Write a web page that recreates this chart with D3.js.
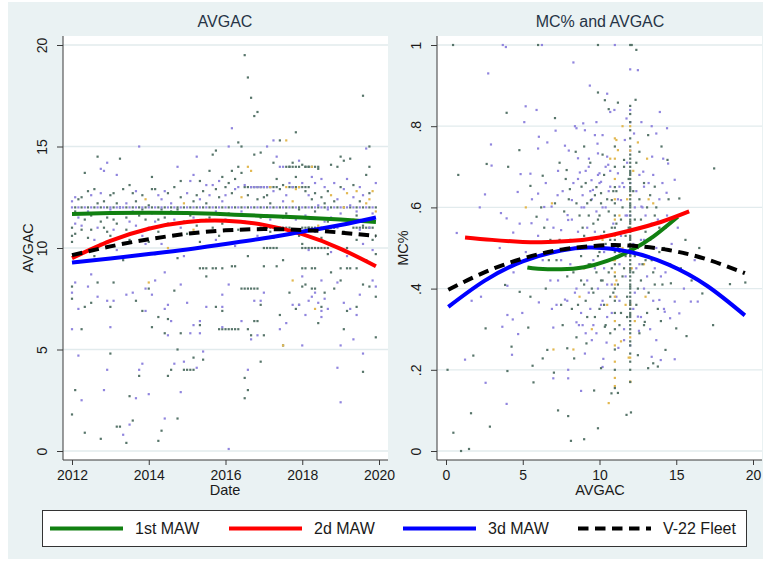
<!DOCTYPE html>
<html>
<head>
<meta charset="utf-8">
<script src="https://cdn.jsdelivr.net/npm/d3@7"></script>
<style>
body { margin: 0; background: #fff; }
text { font-family: "Liberation Sans", Arial, sans-serif; }
</style>
</head>
<body>
<div id="chart"></div>
<script>
// ---------------- data ----------------
// left panel: [months since Jan 2012, AVGAC]
const leftGray = [
  [0,8.1],[0,7.5],[0,1.8],[1,3.0],[3,6.0],[4,0.9],[4,7.1],[6,7.3],[8,8.3],[9,0.6],[12,4.8],[12,7.1],[13,8.3],[14,1.2],[15,1.2],[17,0.4],
  [18,2.7],[19,1.5],[20,7.4],[21,3.7],[22,6.9],[24,8.0],[25,6.1],[27,0.5],[27,6.6],[28,1.0],[29,5.8],[30,3.7],[30,6.5],[31,4.0],[32,7.9],
  [33,1.6],[33,5.0],[34,5.8],[35,4.0],[36,4.0],[37,4.0],[38,4.0],[38,4.6],[40,6.2],[41,4.5],[42,8.6],[45,7.1],[47,6.9],[46,6.0],[47,6.0],
  [48,6.0],[49,6.0],[50,6.0],[51,6.0],[52,6.0],[54,3.6],[54,2.6],[55,3.0],[55,6.0],[56,5.7],[57,6.4],[58,6.4],[59,4.4],[59,7.2],[60,5.7],
  [53,8.0],[54,8.0],[55,8.0],[56,8.0],[57,8.0],[58,8.0],[65,6.7],[66,5.2],[68,7.8],[70,7.0],[71,7.2],[72,8.1],[73,8.2],[75,8.0],[76,8.0],
  [77,6.3],[78,7.1],[79,7.8],[81,8.8],[82,8.0],[84,8.4],[85,6.0],[86,6.9],[89,7.1],[91,3.9],[91,8.2],[93,8.1],[95,7.6],[95,5.6],
  [40,9],[41,9],[42,9],[44,9],[45,9],[47,9],[72,9],[73,9],[75,9],[76,9],[84,9],[86,9],[87,9],[89,9],
  [50,9.1],[51,9.1],[60,9.1],[64,9.1],[2,9.3],[7,9.6],[16,9.4],[26,9.7],[33,9.5],[55,9.6],[66,9.4],[80,9.7],[92,9.4],
  [0,11.0],[0,10.6],[0,10.3],[1,10.7],[2,12.4],[3,12.5],[3,10.9],[4,13.7],[4,11.4],[5,10.5],[6,10.9],[6,11.6],[7,12.9],[8,14.5],[8,12.2],
  [9,11.3],[9,10.2],[10,12.3],[11,11.5],[11,10.8],[12,12.6],[12,10.6],[13,11.4],[14,12.2],[14,11.2],[15,14.4],[15,10.5],[16,12.9],
  [17,10.9],[17,11.5],[18,10.4],[19,12.7],[19,10.7],[20,12.3],[21,11.6],[22,11.9],[23,11.4],[24,12.1],[24,10.3],[25,13.5],[25,12.9],
  [26,12.9],[27,10.8],[28,11.9],[29,11.5],[30,11.2],[31,11.8],[32,13.0],[33,11.9],[34,12.5],[35,11.3],[36,10.7],[37,11.6],[38,12.3],
  [39,11.1],[40,13.3],[40,10.3],[41,12.8],[42,12.2],[43,13.8],[44,14.6],[44,11.0],[45,14.8],[45,12.9],[46,12.5],[47,13.5],[47,11.2],
  [48,13.0],[49,13.2],[50,13.8],[50,12.7],[51,13.4],[52,15.2],[52,14.0],[53,15.0],[53,13.7],[54,19.5],[55,18.4],[55,12.6],[56,17.4],
  [57,16.5],[57,14.6],[58,16.7],[58,12.4],[59,14.7],[59,11.5],[60,12.5],[60,11.0],[61,12.6],[62,12.2],[62,10.8],[63,14.2],[64,13.4],
  [64,10.9],[65,15.3],[65,12.9],[66,13.1],[66,11.5],[68,14.0],[68,11.0],[69,14.2],[70,15.7],[70,13.5],[71,11.9],[72,14.1],[72,10.2],
  [73,14.0],[73,12.8],[74,14.0],[74,11.0],[75,12.4],[76,12.7],[77,13.9],[78,12.5],[78,10.5],[79,12.2],[80,12.8],[81,14.1],[82,12.3],
  [82,10.1],[83,14.0],[84,14.5],[84,13.0],[85,14.3],[86,11.2],[87,14.4],[87,10.7],[88,13.1],[89,10.4],[90,12.3],[91,17.5],[91,11.1],
  [92,13.6],[93,15.0],[93,14.0],[94,10.4],[95,10.6],[95,9.7],
  [1,11.8],[5,12.8],[10,11.0],[13,12.7],[18,13.1],[22,12.6],[27,11.4],[30,12.7],[34,13.3],[36,11.7],[39,12.6],[43,11.5],[46,10.6],
  [49,11.7],[52,10.9],[56,11.2],[61,11.6],[63,10.5],[67,11.7],[71,10.6],[76,11.8],[80,11.3],[85,10.8],[89,11.6],[93,12.7]
];
const leftPurple = [
  [0,6.0],[0,7.8],[1,8.3],[2,4.7],[2,7.0],[3,2.5],[5,8.1],[6,8.7],[8,7.6],[10,3.0],[11,4.0],[11,7.4],[12,6.1],[13,7.4],[16,0.8],[17,7.7],
  [18,1.3],[19,7.8],[20,2.6],[21,4.0],[22,4.3],[23,6.9],[23,8.0],[24,2.8],[25,7.7],[26,8.4],[29,1.6],[29,8.8],[29,7.0],[30,5.7],[30,7.2],
  [31,6.4],[32,4.3],[34,8.2],[34,2.9],[35,4.4],[36,7.3],[37,5.8],[38,6.2],[39,4.1],[40,5.8],[40,6.4],[41,4.9],[42,7.1],[47,6.1],[47,7.1],
  [47,7.7],[49,8.2],[49,0.1],[53,6.4],[55,4.0],[56,5.5],[57,7.4],[58,5.7],[59,7.4],[60,7.8],[65,6.0],[67,6.3],[69,7.2],[71,7.2],[72,8.6],
  [72,5.2],[73,6.7],[74,7.4],[75,7.6],[76,7.8],[77,7.3],[78,6.6],[78,6.9],[78,8.4],[79,7.5],[80,7.0],[83,4.1],[83,8.3],[84,5.2],[84,2.4],
  [85,7.3],[87,7.0],[88,5.5],[89,6.7],[90,7.7],[91,4.8],[94,8.4],[95,8.1],
  [0,12.3],[1,12.5],[1,11.2],[2,11.5],[5,11.8],[6,12.6],[7,10.4],[8,11.0],[9,13.9],[10,13.8],[11,14.2],[12,11.9],[13,10.9],[14,13.6],
  [15,12.0],[16,11.7],[17,12.2],[18,11.3],[19,11.8],[20,11.1],[21,15.0],[21,10.8],[22,10.6],[24,11.0],[25,11.7],[26,11.3],[27,12.6],
  [28,10.2],[29,12.8],[31,12.2],[32,10.6],[33,14.0],[34,11.0],[36,12.7],[37,13.3],[38,13.6],[39,14.5],[40,12.4],[41,11.7],[43,12.6],
  [44,13.1],[45,11.8],[46,13.3],[47,12.3],[48,12.6],[49,15.0],[50,15.9],[51,12.9],[52,13.0],[54,13.1],[54,11.3],[56,13.0],[57,13.0],
  [58,13.0],[59,13.0],[60,13.0],[61,15.0],[61,13.0],[63,15.3],[63,12.8],[64,14.5],[65,14.0],[66,14.0],[67,12.6],[68,13.2],[69,13.0],
  [71,14.3],[72,13.2],[73,11.6],[74,12.6],[75,13.5],[76,13.2],[76,10.8],[77,12.1],[78,13.4],[79,13.0],[79,11.3],[80,11.9],[81,11.5],
  [82,13.2],[83,12.4],[83,11.0],[84,11.7],[85,12.9],[86,13.4],[87,12.1],[88,12.5],[89,11.8],[90,13.0],[90,10.9],[91,12.6],[92,14.9],
  [93,11.0],[94,11.7],[95,13.2],
  [3,11.1],[4,9.8],[9,12.7],[14,9.9],[20,12.8],[23,10.2],[28,12.4],[32,11.4],[35,9.6],[38,11.5],[42,13.1],[45,10.4],[48,11.4],[51,10.1],
  [53,11.8],[58,10.6],[62,11.4],[66,12.3],[70,11.4],[74,9.9],[77,10.4],[81,9.8],[86,9.6],[91,10.2],[94,9.9]
];
const leftGold = [
  [24,8.3],[66,5.2],[69,8.4],[76,7.0],[23,12.4],[30,10.0],[35,12.2],[38,10.9],[42,11.4],[53,12.5],[55,14.0],[56,13.8],[62,13.0],
  [67,15.3],[67,13.0],[69,12.3],[70,12.9],[71,13.0],[75,14.0],[77,11.1],[80,10.9],[81,12.6],[85,12.0],[86,12.7],[88,11.4],[89,12.8],
  [92,12.2],[93,12.4],[94,12.8],[95,11.8]
];
// months with repeated values (rows of dots)
const row12Gray = [1,3,5,7,9,11,13,15,17,19,21,23,25,27,29,31,33,35,37,39,41,43,45,47,49,51,53,55,57,59,61,63,65,67,69,71,73,75,77,79,81,83,85,87,89,91,93,95];
const row12Purple = [0,2,4,6,8,10,12,14,16,18,20,22,24,26,28,30,32,34,36,38,40,42,44,46,48,50,52,54,56,58,60,62,64,66,68,70,72,74,76,78,80,82,84,86,88,90,92,94];
const row11Gray = [59,60,61,62,63,64,65,66,67,72,73,74,75,76,77,78,79,80,81,82,88,89,90,91,92,93,94];
const row10Gray = [60,61,62,63,64,72,73,74,75,76,77,78,79,80,86];
const row13Gray = [54,55,56,57,58,59,60,61,62,63,64,68,69,70,71,72,73,74];
const row14Gray = [67,68,69,70,71,73,74,75,76,77];

// right panel: [AVGAC, MC%]
const rightGray = [
  [0.1,.2],[0.48,.045],[0.98,0.0],[1.5,.005],[1.63,.093],[1.78,.235],[2.58,.302],[2.86,.06],[3.85,.409],[4.0,.197],[4.27,.257],[4.8,.392],
  [5.36,.304],[5.64,.21],[5.7,.169],[6.3,.228],[6.6,.249],[7.03,.193],[7.3,.1],[7.9,.253],[7.96,.086],[8.14,.025],[8.35,.228],[9.0,.029],
  [9.15,.265],[9.65,.149],[9.9,.056],[10.1,.204],[10.35,.306],[10.78,.142],[11.2,.143],[11.76,.089],[12.05,.095],[12.5,.236],[12.95,.318],
  [13.17,.204],[13.5,.216],[13.8,.208],[14.3,.249],[14.65,.413],[15.0,.302],[15.67,.283],[16.7,.388],[17.4,.31],[18.5,.411],[19.5,.415],
  [0.8,.68],[2.65,.707],[3.95,.833],[4.05,.70],[4.78,.741],[5.5,.653],[5.9,.577],[6.3,.678],[7.1,.82],[7.4,.71],[7.86,.692],[8.07,.645],
  [8.45,.737],[8.83,.651],[9.0,.75],[9.44,.618],[9.9,.883],[10.1,.635],[10.35,.864],[10.6,.842],[10.8,.618],[11.2,.858],[11.6,.717],
  [12.35,.865],[12.6,.737],[13.17,.778],[13.6,.651],[14.04,.75],[14.43,.717],[14.08,.565],[15.2,.622],[17.47,.696],[0.46,1],[6.0,1],
  [9.9,1],[12.0,1],[12.1,1],[12.4,.988],
  [8.1,.52],[8.3,.44],[8.5,.61],[8.6,.36],[8.8,.48],[8.9,.55],[9.0,.41],[9.1,.66],[9.2,.33],[9.3,.58],[9.4,.46],[9.5,.52],[9.6,.39],
  [9.7,.63],[9.8,.44],[9.9,.57],[10.0,.35],[10.0,.49],[10.1,.61],[10.2,.42],[10.3,.54],[10.3,.68],[10.4,.31],[10.5,.47],[10.6,.59],
  [10.7,.38],[10.7,.52],[10.8,.45],[10.9,.64],[11.1,.56],[11.2,.41],[11.3,.49],[11.4,.34],[11.5,.6],[11.6,.45],[11.7,.53],[11.8,.38],
  [11.9,.67],[12.2,.44],[12.3,.57],[12.4,.36],[12.5,.5],[12.6,.62],[12.7,.42],[12.8,.55],[12.9,.31],[13.0,.47],[13.1,.6],[13.2,.39],
  [13.3,.52],[13.5,.44],[13.6,.58],[13.8,.35],[13.9,.49],[14.1,.41],[14.3,.55],[14.6,.46],[7.2,.47],[7.5,.36],[7.7,.59],[7.9,.43],
  [6.8,.52],[6.5,.4],[6.2,.6],[5.8,.45],[5.5,.38],[15.3,.45],[15.6,.52],[16.0,.42],[16.5,.5],
  [8.0,.62],[8.2,.35],[8.4,.5],[8.5,.28],[8.7,.58],[8.8,.42],[9.0,.53],[9.1,.37],[9.2,.61],[9.3,.46],[9.4,.71],[9.5,.4],[9.6,.56],
  [9.7,.33],[9.8,.65],[9.9,.48],[10.0,.58],[10.1,.42],[10.2,.73],[10.3,.36],[10.4,.51],[10.5,.62],[10.6,.44],[10.7,.29],[10.8,.55],
  [10.9,.39],[11.1,.64],[11.2,.5],[11.3,.31],[11.4,.57],[11.5,.43],[11.6,.7],[11.7,.48],[11.8,.33],[11.9,.55],[12.2,.64],[12.3,.48],
  [12.4,.71],[12.5,.4],[12.6,.29],[12.7,.57],[12.8,.46],[12.9,.66],[13.0,.54],[13.1,.34],[13.3,.63],[13.4,.47],[13.6,.41],[13.7,.6],
  [13.9,.55],[14.0,.32],[14.2,.5],[14.5,.62],[7.4,.52],[7.6,.31],[7.8,.67],[7.1,.61],[6.7,.47],[6.4,.55]
];
const rightPurple = [
  [1.24,.225],[1.67,.37],[2.28,.38],[2.58,.168],[3.67,.306],[3.95,.116],[4.0,.407],[4.0,.335],[4.3,.237],[4.35,.324],[4.7,.288],[4.97,.34],
  [6.05,.366],[6.66,.446],[6.99,.304],[6.99,.179],[7.2,.36],[7.75,.373],[7.96,.2],[7.96,.179],[8.5,.317],[8.66,.31],[8.8,.148],[9.05,.24],
  [9.5,.273],[10.2,.207],[10.25,.227],[10.46,.267],[11.23,.254],[11.6,.273],[12.5,.331],[12.57,.296],[13.4,.232],[13.7,.273],[13.9,.372],
  [13.99,.224],[14.25,.343],[14.6,.327],[14.9,.226],[14.9,.368],[15.2,.339],[15.95,.368],[16.4,.368],
  [0.7,.537],[2.54,.632],[2.93,.755],[2.97,.703],[3.58,.586],[3.95,.573],[4.38,.538],[4.67,.638],[4.86,.682],[5.1,.81],[5.19,.849],
  [5.5,.683],[5.57,.561],[5.9,.84],[6.0,.634],[6.05,.774],[6.0,.745],[6.4,.601],[6.6,.76],[6.88,.602],[7.14,.789],[7.27,.63],[7.5,.544],
  [7.75,.752],[7.92,.581],[7.96,.569],[8.2,.618],[8.3,.957],[8.4,.8],[8.5,.795],[8.6,.721],[8.72,.686],[8.83,.6],[8.94,.807],[9.05,.79],
  [9.1,.69],[9.37,.9],[9.31,.72],[9.48,.667],[9.57,.643],[9.7,.778],[9.8,.81],[9.87,.757],[9.9,.733],[10.0,.684],[10.1,.663],[10.2,.778],
  [10.5,.88],[10.7,.835],[10.5,.725],[10.57,.705],[10.7,.651],[10.97,.84],[11.2,.684],[11.3,.651],[11.4,.618],[11.76,.819],[11.65,.766],
  [12.25,.782],[12.5,.938],[12.73,.81],[12.85,.688],[12.9,.651],[12.73,.602],[13.4,.8],[13.43,.725],[13.7,.782],[13.93,.835],[14.15,.72],
  [14.4,.795],[14.47,.708],[14.37,.636],[14.9,.668],[2.75,.93],[3.7,1],[3.9,.995],[6.25,1],[12.0,.94],[11.0,1],
  [8.2,.57],[8.4,.39],[8.6,.67],[8.7,.45],[8.9,.31],[9.0,.6],[9.1,.5],[9.2,.42],[9.3,.7],[9.4,.35],[9.5,.62],[9.6,.47],[9.7,.54],
  [9.8,.29],[9.9,.4],[10.0,.66],[10.1,.53],[10.2,.37],[10.3,.45],[10.4,.6],[10.5,.33],[10.6,.5],[10.7,.69],[10.8,.41],[10.9,.56],
  [11.1,.48],[11.2,.62],[11.3,.37],[11.4,.53],[11.6,.65],[11.7,.43],[11.8,.58],[12.2,.51],[12.3,.39],[12.4,.64],[12.6,.46],[12.7,.33],
  [12.8,.6],[12.9,.52],[13.1,.43],[13.2,.66],[13.4,.56],[13.5,.37],[13.7,.5],[13.9,.62],[14.0,.43],[14.2,.35],[14.4,.58],[14.7,.51],
  [7.0,.55],[7.3,.42],[7.6,.64],[7.8,.5],[6.9,.35],[6.6,.57],[6.3,.47],[6.0,.53],[5.6,.62],[5.2,.49],[4.8,.56],[15.1,.55],[15.5,.4],
  [16.2,.47],[3.5,.5],[2.2,.6],[4.4,.44],
  [8.1,.46],[8.3,.66],[8.5,.4],[8.6,.54],[8.8,.34],[8.9,.63],[9.1,.29],[9.2,.55],[9.3,.39],[9.4,.64],[9.6,.31],[9.7,.45],[9.8,.59],
  [9.9,.68],[10.1,.36],[10.2,.6],[10.3,.49],[10.4,.7],[10.5,.41],[10.6,.64],[10.8,.34],[10.9,.5],[11.1,.38],[11.3,.46],[11.5,.66],
  [11.6,.3],[11.7,.58],[11.8,.71],[12.2,.35],[12.3,.6],[12.4,.45],[12.6,.68],[12.7,.52],[12.9,.4],[13.0,.58],[13.2,.48],[13.3,.3],
  [13.5,.68],[13.6,.45],[13.8,.57],[14.1,.66],[14.3,.44],[7.3,.69],[7.5,.47],[7.9,.37],[8.0,.74],[6.8,.42],[6.5,.66]
];
const rightGold = [
  [5.2,.6],[10.6,.118],[11.1,.766],[11.2,.741],[12.0,.171],[10.9,.47],[11.1,.42],[11.3,.58],[11.5,.5],[11.7,.36],[11.8,.62],[12.1,.45],
  [12.2,.69],[12.3,.32],[12.6,.55],[12.9,.46],[13.0,.38],[13.2,.62],[10.2,.52],[10.5,.36],[10.7,.72],[9.8,.5],[9.5,.3],[9.0,.45],
  [8.7,.38],[8.3,.25],[7.0,.25],[6.9,.61],[13.5,.61],[13.1,.72],[12.5,.76],[11.5,.8],[11.4,.27],[11.9,.23]
];
// MC% values stacked at AVGAC = 12 and 11
const col12Gray = [.17,.2,.22,.24,.26,.27,.29,.3,.31,.32,.33,.335,.34,.35,.36,.365,.37,.38,.39,.4,.405,.41,.42,.43,.44,.445,.45,.46,
  .47,.48,.485,.49,.5,.51,.52,.525,.53,.54,.55,.56,.565,.57,.58,.59,.6,.605,.61,.62,.63,.64,.645,.65,.66,.67,.68,.685,.69,.7,.71,.72,
  .73,.75,.77,.79,.81,.83,.85];
const col12Purple = [.26,.35,.48,.58,.66,.74,.81,.84];
const col12Gold = [.17,.23,.28,.36,.45,.55,.63,.74,.8];
const col11Gray = [.155,.2,.25,.3,.34,.37,.4,.43,.46,.49,.52,.55,.58,.61,.65,.7,.75];
const col11Gold = [.16,.18,.22,.26,.32,.38,.41,.44,.47,.53,.57,.62,.67,.72,.77];

// fitted curves
const fitLeft1st = [[2012,11.68],[2013,11.72],[2014,11.74],[2015,11.72],[2016,11.66],[2017,11.58],[2018,11.5],[2019,11.4],[2019.92,11.28]];
const fitLeft2d = [[2012,9.5],[2013,10.35],[2014,10.95],[2015,11.28],[2016,11.34],[2017,11.14],[2018,10.68],[2019,9.96],[2019.92,9.1]];
const fitLeft3d = [[2012,9.28],[2013,9.48],[2014,9.7],[2015,9.93],[2016,10.2],[2017,10.48],[2018,10.8],[2019,11.13],[2019.92,11.5]];
const fitLeftFleet = [[2012,9.65],[2013,10.08],[2014,10.43],[2015,10.7],[2016,10.87],[2017,10.93],[2018,10.89],[2019,10.76],[2019.92,10.59]];
const fitRight1st = [[5.3,.452],[6,.449],[7.5,.4475],[9,.4525],[10.5,.468],[12,.493],[13.5,.528],[15.1,.577]];
const fitRight2d = [[1.24,.526],[3,.52],[5,.515],[6.2,.514],[8,.517],[10,.526],[12,.543],[14,.564],[15.84,.59]];
const fitRight3d = [[0.15,.355],[2.5,.419],[5,.467],[7.5,.494],[9.5,.501],[12,.49],[14.5,.459],[17,.407],[19.47,.334]];
const fitRightFleet = [[0.15,.397],[2.5,.44],[5,.474],[7.5,.496],[10,.506],[12,.506],[14.5,.495],[17,.472],[19.47,.438]];

const leftTicksX = [2012, 2014, 2016, 2018, 2020];
const leftTicksY = [0, 5, 10, 15, 20];
const rightTicksX = [0, 5, 10, 15, 20];
const rightTicksY = [0, .2, .4, .6, .8, 1];
const rightLabelsY = ["0", ".2", ".4", ".6", ".8", "1"];
const legendNames = ["1st MAW", "2d MAW", "3d MAW", "V-22 Fleet"];

// ---------------- drawing ----------------
const width = 769, height = 562;
const colGray = "#57756a", colPurple = "#9085de", colGold = "#e2b850";
const lineColors = ["#118011", "#ff0000", "#0000ff", "#000000"];
const dashPattern = "10.5,6.5";
const gridColor = "#e2ebed";
const axisColor = "#3a3a3a";

const svg = d3.select("#chart").append("svg")
  .attr("width", width)
  .attr("height", height);

svg.append("rect")
  .attr("x", 8).attr("y", 2)
  .attr("width", 755).attr("height", 557)
  .attr("fill", "#eaf2f3");

function toDate(m) { return 2012 + m / 12; }

function drawPanel(p) {
  const g = svg.append("g");
  const left = p.left, top = 36, w = 325, h = 424;
  const xs = d3.scaleLinear().domain(p.xDomain).range(p.xRange);
  const ys = d3.scaleLinear().domain(p.yDomain).range([451, 45]);

  g.append("rect")
    .attr("x", left).attr("y", top)
    .attr("width", w).attr("height", h)
    .attr("fill", "#fff");

  // gridlines
  g.selectAll(".grid")
    .data(p.yTicks)
    .enter().append("line")
    .attr("x1", left).attr("x2", left + w)
    .attr("y1", d => ys(d)).attr("y2", d => ys(d))
    .attr("stroke", gridColor)
    .attr("stroke-width", 1.3);

  g.append("clipPath").attr("id", p.id)
    .append("rect")
    .attr("x", left).attr("y", top)
    .attr("width", w).attr("height", h);

  const plot = g.append("g").attr("clip-path", "url(#" + p.id + ")");

  p.groups.forEach(function(grp) {
    plot.append("g").selectAll("rect")
      .data(grp.data)
      .enter().append("rect")
      .attr("x", d => xs(d[0]) - 1.1)
      .attr("y", d => ys(d[1]) - 1.1)
      .attr("width", 2.2)
      .attr("height", 2.2)
      .attr("fill", grp.color);
  });

  const line = d3.line()
    .x(d => xs(d[0]))
    .y(d => ys(d[1]))
    .curve(d3.curveNatural);

  p.fits.forEach(function(f, i) {
    plot.append("path")
      .datum(f)
      .attr("d", line)
      .attr("fill", "none")
      .attr("stroke", lineColors[i])
      .attr("stroke-width", 4)
      .attr("stroke-dasharray", i == 3 ? dashPattern : null);
  });

  // y axis
  const yAxis = d3.axisLeft(ys)
    .tickValues(p.yTicks)
    .tickSize(6)
    .tickSizeOuter(0)
    .tickFormat((d, i) => p.yLabels[i]);
  const gy = g.append("g")
    .attr("transform", "translate(" + left + ",0)")
    .call(yAxis)
    .attr("font-size", 14)
    .attr("font-family", null);
  gy.select(".domain").remove();
  gy.selectAll("line").attr("stroke", axisColor);
  gy.selectAll("text")
    .attr("x", 0).attr("y", -16).attr("dy", null)
    .attr("transform", "rotate(-90)")
    .attr("text-anchor", "middle")
    .attr("fill", "#1a1a1a");

  // x axis
  const xAxis = d3.axisBottom(xs)
    .tickValues(p.xTicks)
    .tickSize(5)
    .tickPadding(5)
    .tickFormat(d3.format("d"));
  const gx = g.append("g")
    .attr("transform", "translate(0," + (top + h) + ")")
    .call(xAxis)
    .attr("font-size", 14)
    .attr("font-family", null);
  gx.select(".domain").remove();
  gx.selectAll("line").attr("stroke", axisColor);
  gx.selectAll("text").attr("fill", "#1a1a1a");

  g.append("line")
    .attr("x1", left).attr("x2", left)
    .attr("y1", top).attr("y2", top + h)
    .attr("stroke", axisColor);
  g.append("line")
    .attr("x1", left).attr("x2", left + w)
    .attr("y1", top + h).attr("y2", top + h)
    .attr("stroke", axisColor);

  // titles
  g.append("text")
    .attr("x", p.titleX).attr("y", 27)
    .attr("text-anchor", "middle")
    .attr("font-size", 16)
    .attr("fill", "#263446")
    .text(p.title);
  g.append("text")
    .attr("x", p.titleX).attr("y", 495)
    .attr("text-anchor", "middle")
    .attr("font-size", 14.5)
    .attr("fill", "#1a1a1a")
    .text(p.xTitle);
  g.append("text")
    .attr("transform", "translate(" + p.yTitleX + ",248) rotate(-90)")
    .attr("text-anchor", "middle")
    .attr("font-size", 14.5)
    .attr("fill", "#1a1a1a")
    .text(p.yTitle);
}

// build point sets for the left panel
const leftGrayAll = leftGray
  .concat(row12Gray.map(m => [m, 12]))
  .concat(row11Gray.map(m => [m, 11]))
  .concat(row10Gray.map(m => [m, 10]))
  .concat(row13Gray.map(m => [m, 13]))
  .concat(row14Gray.map(m => [m, 14]))
  .map(d => [toDate(d[0]), d[1]]);
const leftPurpleAll = leftPurple.concat(row12Purple.map(m => [m, 12])).map(d => [toDate(d[0]), d[1]]);
const leftGoldAll = leftGold.map(d => [toDate(d[0]), d[1]]);

drawPanel({
  id: "clipL", left: 63,
  xDomain: [2012, 2020], xRange: [72, 379],
  yDomain: [0, 20],
  xTicks: leftTicksX, yTicks: leftTicksY, yLabels: leftTicksY.map(String),
  title: "AVGAC", titleX: 225, xTitle: "Date", yTitle: "AVGAC", yTitleX: 33,
  groups: [
    {data: leftGrayAll, color: colGray},
    {data: leftPurpleAll, color: colPurple},
    {data: leftGoldAll, color: colGold}
  ],
  fits: [fitLeft1st, fitLeft2d, fitLeft3d, fitLeftFleet]
});

const rightGrayAll = rightGray.concat(col12Gray.map(v => [12, v])).concat(col11Gray.map(v => [11, v]));
const rightPurpleAll = rightPurple.concat(col12Purple.map(v => [12, v]));
const rightGoldAll = rightGold.concat(col12Gold.map(v => [12, v])).concat(col11Gold.map(v => [11, v]));

drawPanel({
  id: "clipR", left: 437,
  xDomain: [0, 20], xRange: [446, 753],
  yDomain: [0, 1],
  xTicks: rightTicksX, yTicks: rightTicksY, yLabels: rightLabelsY,
  title: "MC% and AVGAC", titleX: 600, xTitle: "AVGAC", yTitle: "MC%", yTitleX: 408,
  groups: [
    {data: rightPurpleAll, color: colPurple},
    {data: rightGoldAll, color: colGold},
    {data: rightGrayAll, color: colGray}
  ],
  fits: [fitRight1st, fitRight2d, fitRight3d, fitRightFleet]
});

// legend
const legend = svg.append("g");
legend.append("rect")
  .attr("x", 42.5).attr("y", 510.5)
  .attr("width", 704).attr("height", 36)
  .attr("fill", "#fff")
  .attr("stroke", "#333");
const legendX = [50, 229, 403, 578];
legendNames.forEach(function(name, i) {
  legend.append("line")
    .attr("x1", legendX[i]).attr("x2", legendX[i] + 73)
    .attr("y1", 528.5).attr("y2", 528.5)
    .attr("stroke", lineColors[i])
    .attr("stroke-width", 4)
    .attr("stroke-dasharray", i == 3 ? dashPattern : null);
  legend.append("text")
    .attr("x", legendX[i] + 85).attr("y", 533.5)
    .attr("font-size", 16)
    .attr("fill", "#1a1a1a")
    .text(name);
});
</script>
</body>
</html>
